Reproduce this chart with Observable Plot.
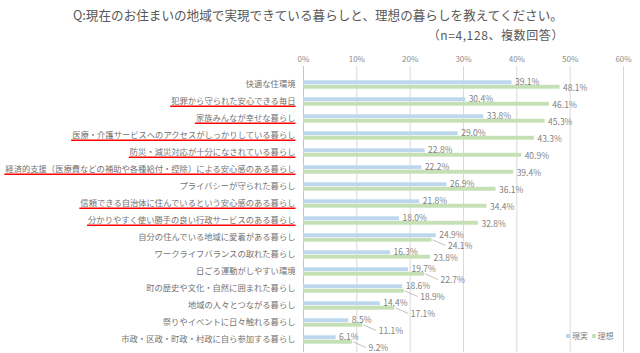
<!DOCTYPE html>
<html><head><meta charset="utf-8">
<script src="https://cdn.jsdelivr.net/npm/d3@7"></script>
<script src="https://cdn.jsdelivr.net/npm/@observablehq/plot@0.6"></script>
<style>
body{margin:0;background:#fff;font-family:"Noto Sans CJK JP","Noto Sans",sans-serif;}
#wrap{position:relative;width:640px;height:353px;overflow:hidden;background:#fff}
#title{position:absolute;left:73px;top:5px;font-size:12.6px;color:#595959;white-space:nowrap;line-height:20px}
#sub{position:absolute;right:76px;top:25px;font-size:12px;letter-spacing:0.6px;color:#595959;white-space:nowrap;line-height:20px}
#chart{position:absolute;left:0;top:45px}
#legend{position:absolute;left:566px;top:330px;font-size:8px;color:#7f7f7f;white-space:nowrap;line-height:12px}
#legend span.sw{display:inline-block;width:4px;height:4px;margin-right:2px;vertical-align:1px}
</style></head><body>
<div id="wrap">
  <div id="title">Q:現在のお住まいの地域で実現できている暮らしと、理想の暮らしを教えてください。</div>
  <div id="sub">（n=4,128、複数回答）</div>
  <div id="chart"></div>
  <div id="legend"><span class="sw" style="background:#bdd7ee"></span>現実&nbsp;&nbsp;<span class="sw" style="background:#c5e0b4"></span>理想</div>
</div>
<script>
const categories = [
  "快適な住環境",
  "犯罪から守られた安心できる毎日",
  "家族みんなが幸せな暮らし",
  "医療・介護サービスへのアクセスがしっかりしている暮らし",
  "防災・減災対応が十分になされている暮らし",
  "経済的支援（医療費などの補助や各種給付・控除）による安心感のある暮らし",
  "プライバシーが守られた暮らし",
  "信頼できる自治体に住んでいるという安心感のある暮らし",
  "分かりやすく使い勝手の良い行政サービスのある暮らし",
  "自分の住んでいる地域に愛着がある暮らし",
  "ワークライフバランスの取れた暮らし",
  "日ごろ運動がしやすい環境",
  "町の歴史や文化・自然に囲まれた暮らし",
  "地域の人々とつながる暮らし",
  "祭りやイベントに日々触れる暮らし",
  "市政・区政・町政・村政に自ら参加する暮らし"
];
const real  = [39.1, 30.4, 33.8, 29.0, 22.8, 22.2, 26.9, 21.8, 18.0, 24.9, 16.3, 19.7, 18.6, 14.4, 8.5, 6.1];
const ideal = [48.1, 46.1, 45.3, 43.3, 40.9, 39.4, 36.1, 34.4, 32.8, 24.1, 23.8, 22.7, 18.9, 17.1, 11.1, 9.2];
const highlighted = [
  "犯罪から守られた安心できる毎日",
  "家族みんなが幸せな暮らし",
  "医療・介護サービスへのアクセスがしっかりしている暮らし",
  "防災・減災対応が十分になされている暮らし",
  "経済的支援（医療費などの補助や各種給付・控除）による安心感のある暮らし",
  "信頼できる自治体に住んでいるという安心感のある暮らし",
  "分かりやすく使い勝手の良い行政サービスのある暮らし"
];
const xTicks = [0, 10, 20, 30, 40, 50, 60];

const rows = categories.map((c, i) => ({cat: c, real: real[i], ideal: ideal[i]}));
const crowded = d => d.ideal < d.real + 5;
const fmt = v => v.toFixed(1) + "%";
const LEAD_DX = 16, LEAD_DY = 8;

const leaders = (index, scales) => {
  const g = d3.create("svg:g");
  const x = scales.x, y = scales.y;
  const step = y(categories[1]) - y(categories[0]);
  rows.filter(crowded).forEach(d => {
    const x0 = x(d.ideal), yc = y(d.cat) + step / 2;
    g.append("path")
      .attr("d", `M${x0 + 1},${yc + 2.3}L${x0 + LEAD_DX - 2},${yc + LEAD_DY}`)
      .attr("stroke", "#a6a6a6").attr("fill", "none").attr("stroke-width", 0.7);
  });
  return g.node();
};

const chart = Plot.plot({
  width: 640, height: 308,
  marginLeft: 303, marginRight: 17, marginTop: 26, marginBottom: 1,
  x: {domain: [0, 60]},
  y: {domain: categories, padding: 0},
  style: {fontFamily: '"Noto Sans CJK JP","Noto Sans",sans-serif', background: "#fff"},
  marks: [
    Plot.ruleX(xTicks, {stroke: "#d9d9d9", strokeWidth: 1, insetTop: -5}),
    Plot.ruleX([0], {stroke: "#c4c4c4", strokeWidth: 1, insetTop: -5}),
    Plot.axisX(xTicks, {anchor: "top", tickSize: 0, tickPadding: 10, tickFormat: d => d + "%", fill: "#8c8c8c", fontSize: 8, label: null}),
    Plot.axisY({tickSize: 0, tickPadding: 8, fill: "#737373", fontSize: 8.3, dy: -1, label: null}),
    Plot.barX(rows, {y: "cat", x: "real", fill: "#bdd7ee", insetTop: 4.3, insetBottom: 8.8}),
    Plot.barX(rows, {y: "cat", x: "ideal", fill: "#c5e0b4", insetTop: 8.8, insetBottom: 4.3}),
    Plot.text(rows, {y: "cat", x: "real", text: d => fmt(d.real), dx: 3, dy: -2.3, textAnchor: "start", fill: "#7f7f7f", fontSize: 8.5}),
    Plot.text(rows.filter(d => !crowded(d)), {y: "cat", x: "ideal", text: d => fmt(d.ideal), dx: 3, dy: 3, textAnchor: "start", fill: "#7f7f7f", fontSize: 8.5}),
    Plot.text(rows.filter(crowded), {y: "cat", x: "ideal", text: d => fmt(d.ideal), dx: LEAD_DX, dy: LEAD_DY, textAnchor: "start", fill: "#7f7f7f", fontSize: 8.5}),
    leaders
  ]
});
document.getElementById("chart").appendChild(chart);

// red underlines beneath highlighted category labels
const svg = chart.tagName.toLowerCase() === "svg" ? chart : chart.querySelector("svg");
const sRect = svg.getBoundingClientRect();
const ug = d3.select(svg).append("g").attr("aria-label", "underlines");
svg.querySelectorAll('g[aria-label="y-axis tick label"] text').forEach(t => {
  const label = t.textContent;
  if (!highlighted.includes(label)) return;
  const r = t.getBoundingClientRect();
  const yc = (r.top + r.bottom) / 2 - sRect.top;
  ug.append("line")
    .attr("x1", r.left - sRect.left - 1).attr("x2", r.right - sRect.left)
    .attr("y1", yc + 6.6).attr("y2", yc + 6.6)
    .attr("stroke", "#ff0000").attr("stroke-width", 1.6);
});
</script>
</body></html>
